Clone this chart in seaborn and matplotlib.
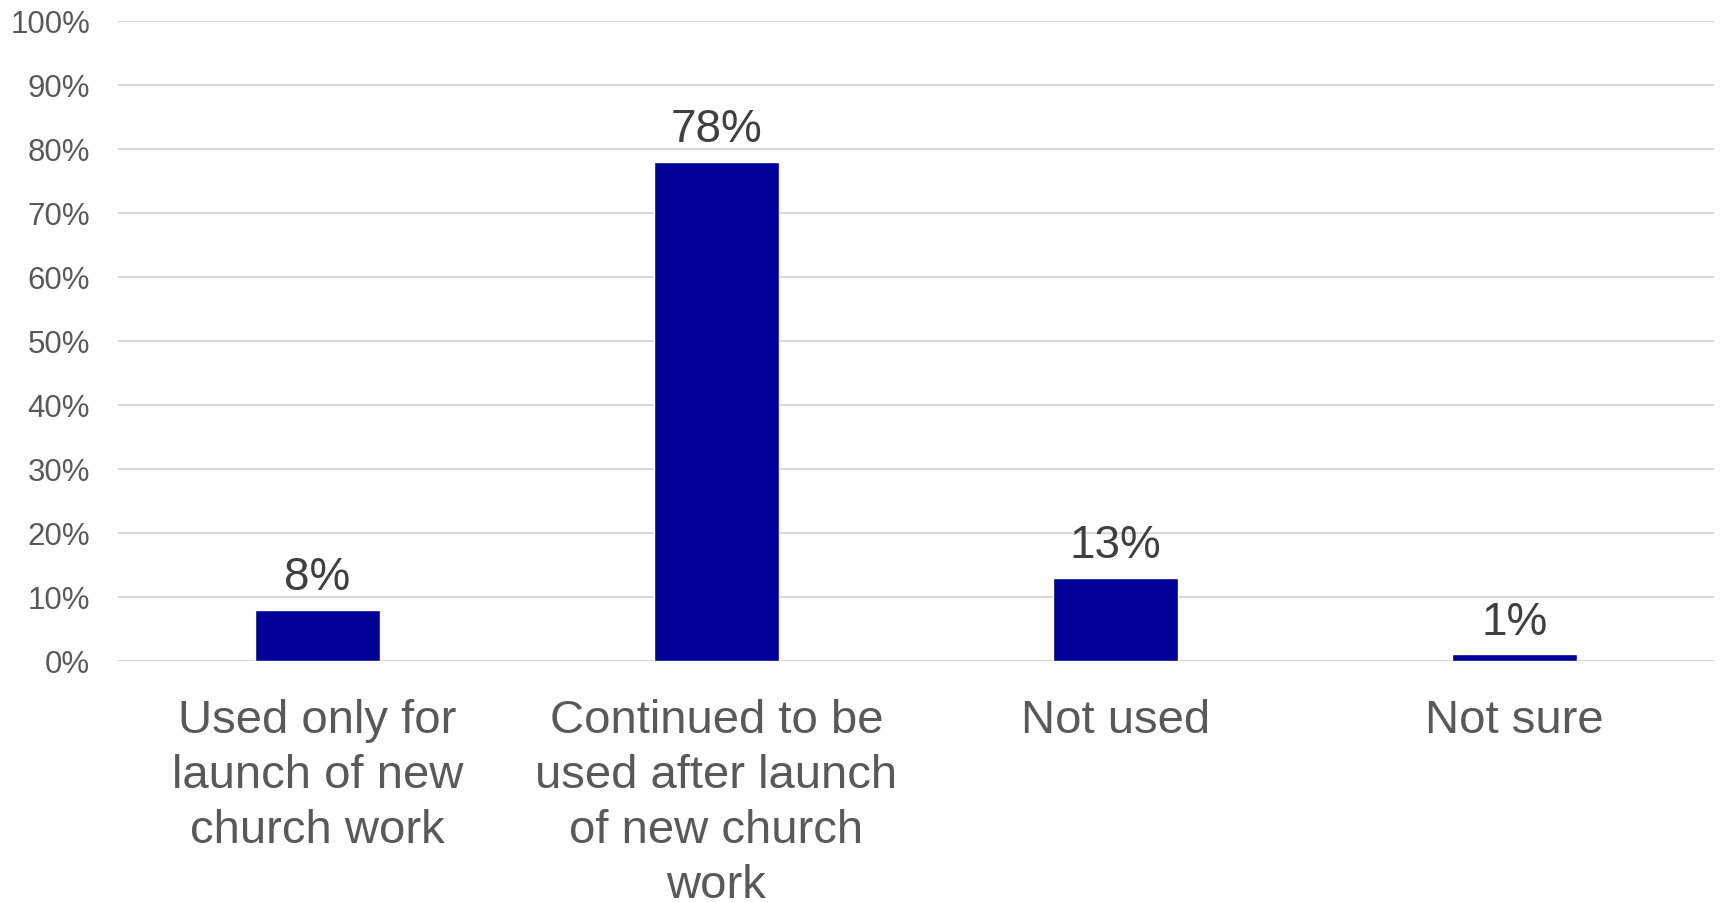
import matplotlib
matplotlib.use("Agg")
import matplotlib.pyplot as plt
import seaborn as sns
import pandas as pd
from matplotlib.ticker import PercentFormatter

categories = ["Used only for\nlaunch of new\nchurch work",
              "Continued to be\nused after launch\nof new church\nwork",
              "Not used",
              "Not sure"]
values = [8, 78, 13, 1]
yticks = [0, 10, 20, 30, 40, 50, 60, 70, 80, 90, 100]

sns.set_theme(style="white")
plt.rcParams['font.family'] = ['Liberation Sans', 'DejaVu Sans']

df = pd.DataFrame({"cat": categories, "val": values})

fig = plt.figure(figsize=(17.25, 9.03), dpi=100)
ax = fig.add_axes([0.0684, 0.267, 0.925, 0.709])
sns.barplot(data=df, x="cat", y="val", color="#000099", saturation=1,
            width=0.313, ax=ax, zorder=3)

ax.set_ylim(0, 100)
ax.set_yticks(yticks)
ax.yaxis.set_major_formatter(PercentFormatter(decimals=0))
ax.set_xlim(-0.5, 3.5)
ax.grid(axis='y', color='#d9d9d9', linewidth=1.5, zorder=0)
ax.grid(axis='x', visible=False)
for s in ax.spines.values():
    s.set_visible(False)
ax.set_xlabel("")
ax.set_ylabel("")
ax.tick_params(axis='y', length=0, pad=20, labelsize=22.5, labelcolor='#595959')
ax.tick_params(axis='x', length=0, pad=27, labelsize=34, labelcolor='#595959')
for lbl in ax.get_xticklabels():
    lbl.set_linespacing(1.32)

for i, v in enumerate(values):
    ax.annotate(f"{v}%", (i, v), xytext=(0, 15), textcoords='offset points',
                ha='center', va='baseline', fontsize=33, color='#404040')

fig.savefig("out.png", dpi=100)
